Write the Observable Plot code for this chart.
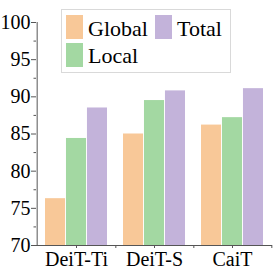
<!DOCTYPE html>
<html>
<head>
<meta charset="utf-8">
<script src="https://cdn.jsdelivr.net/npm/d3@7"></script>
<script src="https://cdn.jsdelivr.net/npm/@observablehq/plot@0.6"></script>
<style>
  html, body { margin: 0; padding: 0; background: #fff; }
  #wrap { position: relative; width: 274px; height: 274px; font-family: 'Liberation Serif'; }
  #wrap svg text { fill: #000; font-family: 'Liberation Serif'; }
  #legend { position: absolute; left: 61px; top: 9px; width: 168px; height: 62px; border: 1px solid #d9d9d9; background: #fff; }
  .sw { position: absolute; width: 17px; height: 24px; }
  .lab { position: absolute; font-size: 22px; line-height: 22px; color: #000; white-space: nowrap; font-family: 'Liberation Serif'; }
</style>
</head>
<body>
<div id="wrap"></div>
<script>
const categories = ["DeiT-Ti", "DeiT-S", "CaiT"];
const series = ["Global", "Local", "Total"];
const globalVals = [76.3, 85.0, 86.2];
const localVals = [84.4, 89.5, 87.2];
const totalVals = [88.5, 90.8, 91.1];
const colors = ["#F8C898", "#A3D8A2", "#C3B3DA"];
const yTicks = [70, 75, 80, 85, 90, 95, 100];
const yMinorTicks = [72.5, 77.5, 82.5, 87.5, 92.5, 97.5];

const seriesVals = [globalVals, localVals, totalVals];
const rows = categories.flatMap((c, i) => series.map((s, j) => ({category: c, series: s, value: seriesVals[j][i]})));

const W = 274, H = 274;
const mL = 36, mR = 2, mT = 22, mB = 29;
const xOpts = {type: "band", domain: categories, range: [mL, W - mR], paddingInner: 0.2, paddingOuter: 0.1};
const xs = Plot.scale({x: xOpts});
const bw = xs.bandwidth, step = xs.step;

const barMarks = series.map((s, j) => Plot.barY(rows.filter(d => d.series === s), {
  x: "category", y1: 70, y2: "value", fill: colors[j],
  insetLeft: j * bw / 3, insetRight: (2 - j) * bw / 3
}));

const plot = Plot.plot({
  width: W, height: H,
  marginLeft: mL, marginRight: mR, marginTop: mT, marginBottom: mB,
  style: {background: "transparent", overflow: "visible", fontFamily: "Liberation Serif"},
  x: {domain: categories, paddingInner: 0.2, paddingOuter: 0.1},
  y: {domain: [70, 100]},
  marks: [
    ...barMarks,
    Plot.axisY({ticks: yMinorTicks, tickSize: 2.5, tickFormat: () => "", label: null}),
    Plot.axisY({ticks: yTicks, tickSize: 5, tickPadding: 1, fontSize: 20, label: null}),
    Plot.axisX({tickSize: 3, tickPadding: 3, fontSize: 20, label: null}),
    Plot.ruleX(categories, {x: d => d, dx: step / 2, y1: 70, y2: 70, insetBottom: -3, stroke: "#555"}),
    Plot.ruleY([70], {stroke: "#555"}),
    Plot.ruleX([categories[0]], {x: d => d, dx: -(bw / 2 + 0.1 * step), y1: 70, y2: 100, stroke: "#555"})
  ]
});
plot.querySelectorAll('g[aria-label="y-axis tick"], g[aria-label="x-axis tick"]').forEach(g => g.setAttribute("stroke", "#555"));
plot.querySelectorAll("text").forEach(t => { t.setAttribute("font-family", "Liberation Serif"); t.style.fontFamily = "Liberation Serif"; });
plot.querySelectorAll("g").forEach(g => { if (g.getAttribute("font-family")) g.setAttribute("font-family", "Liberation Serif"); });
document.getElementById("wrap").appendChild(plot);

// legend
const legend = document.createElement("div");
legend.id = "legend";
const items = [
  {name: series[0], color: colors[0], sx: 4, sy: 5, tx: 26, ty: 8},
  {name: series[1], color: colors[1], sx: 4, sy: 33, tx: 26, ty: 35},
  {name: series[2], color: colors[2], sx: 93, sy: 5, tx: 115, ty: 8}
];
for (const it of items) {
  const sw = document.createElement("div");
  sw.className = "sw"; sw.style.left = it.sx + "px"; sw.style.top = it.sy + "px"; sw.style.background = it.color;
  const lab = document.createElement("div");
  lab.className = "lab"; lab.style.left = it.tx + "px"; lab.style.top = it.ty + "px"; lab.style.fontFamily = "Liberation Serif"; lab.textContent = it.name;
  legend.appendChild(sw); legend.appendChild(lab);
}
document.getElementById("wrap").appendChild(legend);
</script>
</body>
</html>
